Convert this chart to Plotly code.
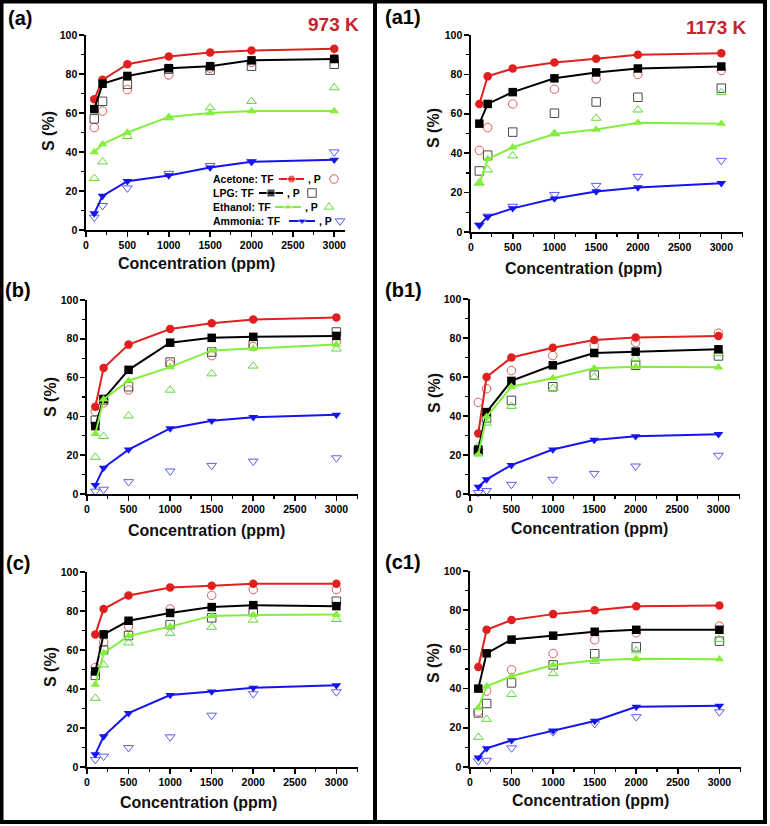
import plotly.graph_objects as go

W, H = 770, 826

# ---------------- data ----------------
conc = [100, 200, 500, 1000, 1500, 2000, 3000]
x_ticks = [0, 500, 1000, 1500, 2000, 2500, 3000]
y_ticks = [0, 20, 40, 60, 80, 100]
panel_labels = ["(a)", "(a1)", "(b)", "(b1)", "(c)", "(c1)"]
temp_labels = ["973 K", "1173 K"]
gas_names = ["Acetone", "LPG", "Ethanol", "Ammonia"]

# (a) 973 K
a_acetone_tf = [67, 77, 85, 89, 91, 92, 93]
a_acetone_p = [52.5, 61, 72, 79.5, 83, 86, 88]
a_lpg_tf = [62, 75, 79, 83, 84, 87, 87.7]
a_lpg_p = [57, 66, 74.7, 82.5, 82, 84, 85]
a_ethanol_tf = [40, 44, 50, 58, 60, 61, 61]
a_ethanol_p = [26.5, 35, 48, 57.6, 62.7, 66, 73]
a_ammonia_tf = [8.5, 17.5, 25, 28, 32, 35, 36]
a_ammonia_p = [6.5, 12.5, 21.5, 29, 33, 35, 40]

# (a1) 1173 K
a1_acetone_tf = [65, 79, 83, 86, 88, 90, 90.7]
a1_acetone_p = [41.4, 53, 65, 72.5, 77.7, 80, 82]
a1_lpg_tf = [55, 65, 71, 78, 81, 83, 84]
a1_lpg_p = [31, 39, 50.7, 60.3, 66, 68.4, 73]
a1_ethanol_tf = [24.5, 37, 43, 49.7, 52, 55.5, 55]
a1_ethanol_p = [25, 31.6, 38.7, 50, 57.8, 62, 70.8]
a1_ammonia_tf = [3.5, 7.8, 12, 17, 20.6, 22.6, 24.8]
a1_ammonia_p = [3.5, 8, 13, 19, 23.6, 28.2, 36.3]

# (b)
b_acetone_tf = [45, 65, 77, 85, 88, 90, 91]
b_acetone_p = [42.5, 47, 53.6, 67, 71.3, 76, 78.5]
b_lpg_tf = [35, 49, 64, 78, 80.5, 81, 81.5]
b_lpg_p = [38, 48.5, 55.3, 68, 73.2, 77, 83.5]
b_ethanol_tf = [31, 48.8, 58.4, 65.4, 74, 75, 77]
b_ethanol_p = [19, 29.7, 40.3, 53.6, 62, 66, 74.8]
b_ammonia_tf = [4.6, 13.5, 22.9, 33.8, 37.7, 39.6, 40.8]
b_ammonia_p = [1.4, 2.4, 6.3, 11.8, 14.7, 16.9, 18.6]

# (b1)
b1_acetone_tf = [31, 60, 70, 75, 79, 80.3, 81]
b1_acetone_p = [47, 54, 63.3, 71, 76, 77.7, 82.5]
b1_lpg_tf = [22.8, 42, 58, 66, 72.3, 73, 74.2]
b1_lpg_p = [22, 39, 48, 55, 61, 66, 70.8]
b1_ethanol_tf = [20.2, 39.6, 55, 59.4, 64.5, 65.3, 65]
b1_ethanol_p = [24.5, 36.4, 45, 54.2, 60, 69.6, 72]
b1_ammonia_tf = [3.7, 7.5, 14.8, 22.8, 27.7, 29.6, 30.7]
b1_ammonia_p = [0.7, 1.7, 4.9, 7.5, 10.5, 14.3, 19.8]

# (c)
c_acetone_tf = [68, 81, 88, 92, 93, 94, 94]
c_acetone_p = [51, 64, 72, 81, 88, 91, 91]
c_lpg_tf = [49, 68, 75, 79, 82, 83, 82.5]
c_lpg_p = [47, 60, 67.4, 73, 76.5, 80, 85]
c_ethanol_tf = [42.3, 58.4, 67.2, 72, 77.5, 78, 78.2]
c_ethanol_p = [35.3, 52.4, 63.7, 68.6, 71.7, 75.4, 75.7]
c_ammonia_tf = [6.5, 15.7, 27.6, 36.9, 38.7, 40.6, 41.9]
c_ammonia_p = [3.8, 5.5, 9.9, 15.4, 26.5, 37.5, 38.5]

# (c1)
c1_acetone_tf = [51, 70, 75, 78, 80, 82, 82.4]
c1_acetone_p = [28.1, 38.7, 49.6, 57.9, 64.9, 68.5, 71.9]
c1_lpg_tf = [40, 58, 65, 67, 69, 70, 70]
c1_lpg_p = [27.6, 32.4, 42.9, 52.1, 57.8, 61.3, 64.2]
c1_ethanol_tf = [30.2, 41.2, 46.3, 52, 54.5, 55.2, 55]
c1_ethanol_p = [15.2, 24.4, 37.1, 47.7, 54, 59.3, 65.2]
c1_ammonia_tf = [4.8, 9.5, 13.6, 18.6, 23.5, 30.7, 31.2]
c1_ammonia_p = [3.1, 3.4, 9.7, 17.9, 22.1, 25.6, 28.1]

panels_tf = [
    [a_acetone_tf, a_lpg_tf, a_ethanol_tf, a_ammonia_tf],
    [a1_acetone_tf, a1_lpg_tf, a1_ethanol_tf, a1_ammonia_tf],
    [b_acetone_tf, b_lpg_tf, b_ethanol_tf, b_ammonia_tf],
    [b1_acetone_tf, b1_lpg_tf, b1_ethanol_tf, b1_ammonia_tf],
    [c_acetone_tf, c_lpg_tf, c_ethanol_tf, c_ammonia_tf],
    [c1_acetone_tf, c1_lpg_tf, c1_ethanol_tf, c1_ammonia_tf],
]
panels_p = [
    [a_acetone_p, a_lpg_p, a_ethanol_p, a_ammonia_p],
    [a1_acetone_p, a1_lpg_p, a1_ethanol_p, a1_ammonia_p],
    [b_acetone_p, b_lpg_p, b_ethanol_p, b_ammonia_p],
    [b1_acetone_p, b1_lpg_p, b1_ethanol_p, b1_ammonia_p],
    [c_acetone_p, c_lpg_p, c_ethanol_p, c_ammonia_p],
    [c1_acetone_p, c1_lpg_p, c1_ethanol_p, c1_ammonia_p],
]

# ---------------- styles ----------------
FONT = "Liberation Sans, Arial, sans-serif"
tf_colors = ["#e0201e", "#000000", "#84ee3c", "#1414f0"]
p_colors = ["#e05a5a", "#4a4a4a", "#5fd83a", "#5a5af5"]
tf_symbols = ["circle", "square", "triangle-up", "triangle-down"]
p_symbols = ["circle-open", "square-open", "triangle-up-open", "triangle-down-open"]

# pixel geometry of each panel: x0, x1, y_top(100), y_bottom(0), x_max
geom = [
    (86, 345, 35, 230, 3130),
    (471, 743, 35, 232, 3260),
    (87, 358, 300, 494, 3260),
    (470, 740, 299, 494, 3260),
    (87, 358, 572, 767, 3260),
    (470, 741, 571, 767, 3260),
]
xtitle_pos = [(197, 263), (583, 268), (207, 530), (589, 528), (199, 802), (590, 800)]
ytitle_pos = [(48, 131), (433, 128), (50, 397), (434, 393), (50, 667), (433, 663)]
plabel_pos = [(20, 18), (403, 17), (18, 290), (403, 290), (18, 563), (403, 562)]
temp_pos = [(333, 25), (716, 27)]

def px(x):
    return x / W

def py(y):
    return 1 - y / H

fig = go.Figure()
layout = dict(
    width=W, height=H, margin=dict(l=0, r=0, t=0, b=0, autoexpand=False),
    paper_bgcolor="white", plot_bgcolor="rgba(0,0,0,0)",
    showlegend=False, font=dict(family=FONT, color="black"),
)

def ann(x, y, text, size, color="black", xanchor="center", yanchor="middle", angle=0):
    return dict(x=px(x), y=py(y), xref="paper", yref="paper", text=text,
                showarrow=False, xanchor=xanchor, yanchor=yanchor, textangle=angle,
                font=dict(family=FONT, size=size, weight="bold", color=color))

annotations = []
for i, (x0, x1, yt, yb, xmax) in enumerate(geom):
    k = i + 1
    sfx = "" if k == 1 else str(k)
    layout["xaxis" + sfx] = dict(
        domain=[px(x0), px(x1)], range=[0, xmax], anchor="y" + sfx,
        showline=True, linecolor="black", linewidth=1.6, mirror=False,
        ticks="outside", ticklen=5, tickwidth=1.6, tickcolor="black",
        tickvals=x_ticks, ticktext=[str(v) for v in x_ticks],
        tickfont=dict(family=FONT, size=10.5, weight="bold", color="black"),
        showgrid=False, zeroline=False, fixedrange=True,
        minor=dict(ticks="outside", ticklen=3, tickwidth=1.2, tickcolor="black",
                   tick0=0, dtick=250, showgrid=False),
    )
    layout["yaxis" + sfx] = dict(
        domain=[py(yb), py(yt)], range=[0, 100], anchor="x" + sfx,
        showline=True, linecolor="black", linewidth=1.6,
        ticks="outside", ticklen=5, tickwidth=1.6, tickcolor="black",
        tickvals=y_ticks, ticktext=[str(v) for v in y_ticks],
        tickfont=dict(family=FONT, size=10.5, weight="bold", color="black"),
        showgrid=False, zeroline=False, fixedrange=True,
        minor=dict(ticks="outside", ticklen=3, tickwidth=1.2, tickcolor="black",
                   tick0=0, dtick=10, showgrid=False),
    )
    xa, ya = "x" + sfx, "y" + sfx
    # open markers (P)
    for g in range(4):
        fig.add_trace(go.Scatter(
            x=conc, y=panels_p[i][g], mode="markers", xaxis=xa, yaxis=ya,
            cliponaxis=False, name=gas_names[g] + " P",
            marker=dict(symbol=p_symbols[g], size=8.5, color=p_colors[g],
                        line=dict(width=1, color=p_colors[g])),
        ))
    # filled lines+markers (TF)
    for g in range(4):
        fig.add_trace(go.Scatter(
            x=conc, y=panels_tf[i][g], mode="lines+markers", xaxis=xa, yaxis=ya,
            cliponaxis=False, name=gas_names[g] + " TF",
            line=dict(color=tf_colors[g], width=2),
            marker=dict(symbol=tf_symbols[g], size=8.5, color=tf_colors[g]),
        ))
    tx, ty = xtitle_pos[i]
    annotations.append(ann(tx, ty, "Concentration (ppm)", 16, "#111"))
    sx, sy = ytitle_pos[i]
    annotations.append(ann(sx, sy, "S (%)", 16, "#111", angle=-90))
    lx, ly = plabel_pos[i]
    annotations.append(ann(lx, ly, panel_labels[i], 20))

for j, t in enumerate(temp_labels):
    tx, ty = temp_pos[j]
    annotations.append(ann(tx, ty, t, 19, "#c1272d"))

# ---------------- custom legend in panel (a) ----------------
layout["xaxis7"] = dict(domain=[0, 1], range=[0, W], visible=False, fixedrange=True, anchor="y7")
layout["yaxis7"] = dict(domain=[0, 1], range=[H, 0], visible=False, fixedrange=True, anchor="x7")
leg_rows = [179, 193, 207, 221]
leg_text_x = 211
leg_line = [(279, 304), (259, 283), (275, 301), (289, 315)]
leg_p_text_x = [306, 285, 303, 317]
leg_open_x = [334, 312, 329, 340]
for g in range(4):
    yv = leg_rows[g]
    annotations.append(ann(leg_text_x, yv, gas_names[g] + ": TF", 10.5, xanchor="left"))
    a0, a1 = leg_line[g]
    fig.add_trace(go.Scatter(
        x=[a0, (a0 + a1) / 2, a1], y=[yv, yv, yv], mode="lines+markers",
        xaxis="x7", yaxis="y7", cliponaxis=False, hoverinfo="skip",
        line=dict(color=tf_colors[g], width=2),
        marker=dict(symbol=tf_symbols[g], size=[0, 8, 0], color=tf_colors[g]),
    ))
    annotations.append(ann(leg_p_text_x[g], yv, ", P", 10.5, xanchor="left"))
    fig.add_trace(go.Scatter(
        x=[leg_open_x[g]], y=[yv], mode="markers", xaxis="x7", yaxis="y7",
        cliponaxis=False, hoverinfo="skip",
        marker=dict(symbol=p_symbols[g], size=8.5, color=p_colors[g],
                    line=dict(width=1, color=p_colors[g])),
    ))

# ---------------- frame ----------------
shapes = [
    dict(type="rect", xref="paper", yref="paper",
         x0=px(1.5), x1=px(765), y0=py(822), y1=py(1.5),
         line=dict(color="black", width=4), fillcolor="rgba(0,0,0,0)"),
    dict(type="line", xref="paper", yref="paper",
         x0=px(375), x1=px(375), y0=py(822), y1=py(1.5),
         line=dict(color="black", width=4)),
]

layout["annotations"] = annotations
layout["shapes"] = shapes
fig.update_layout(**layout)
fig.write_html(
    "out.html",
    config={"displayModeBar": False, "staticPlot": True},
    post_script="document.body.style.margin='0px';document.body.style.padding='0px';",
)
